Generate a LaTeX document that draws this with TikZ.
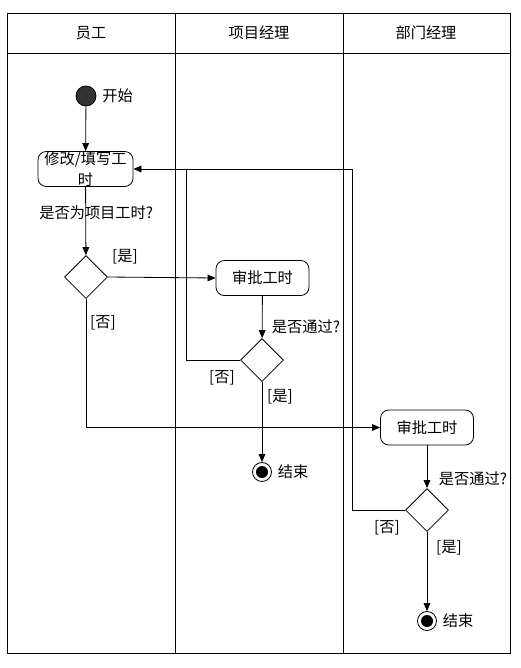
\documentclass[tikz,border=0pt]{standalone}
\usepackage{fontspec}
\setmainfont{Noto Sans CJK SC}
\usetikzlibrary{shapes.geometric, arrows.meta, positioning}

\begin{document}
\begin{tikzpicture}[x=0.03cm, y=-0.03cm, line width=0.7pt, font=\fontsize{13}{15}\selectfont,
    flow/.style={-{Triangle[length=2.4mm, width=2mm]}},
    actbox/.style={draw, rounded corners=2.5mm, minimum width=2.79cm, minimum height=1.05cm, inner sep=0pt, align=center},
    decide/.style={draw, diamond, aspect=1, minimum size=1.29cm, inner sep=0pt},
    endnode/.style={draw, circle, minimum size=0.57cm, inner sep=0pt,
        path picture={\fill (path picture bounding box.center) circle (0.18cm);}}]
        \useasboundingbox (0,0) rectangle (520,668);
        % swimlanes
        \draw (7,13) rectangle (510,653);
        \draw (7,53) -- (510,53);
        \draw (175,13) -- (175,653);
        \draw (343,13) -- (343,653);
        \node (laneA) at (91,33)  {员工};
        \node (laneB) at (259,33) {项目经理};
        \node (laneC) at (426,33) {部门经理};

        % nodes
        \node[draw, circle, fill=black!80, minimum size=0.6cm, inner sep=0pt] (start) at (86,96) {};
        \node[right=0.05cm of start] (startlbl) {开始};
        \node[actbox, minimum width=2.85cm, font=\fontsize{13}{18}\selectfont] (edit) at (85.5,169) {修改/填写工\\时};
        \node[decide] (dec1) at (86,277) {};
        \node[actbox] (pmbox) at (262.5,278) {审批工时};
        \node[decide] (dec2) at (262,360) {};
        \node[endnode] (end1) at (262,472) {};
        \node[right=0.05cm of end1] (end1lbl) {结束};
        \node[actbox] (dmbox) at (427,427.5) {审批工时};
        \node[decide] (dec3) at (427,510) {};
        \node[endnode] (end2) at (427,621) {};
        \node[right=0.05cm of end2] (end2lbl) {结束};
        \coordinate (loopA) at (186,169);
        \coordinate (loopB) at (352,169);

        % connectors
        \draw[flow] (start) -- (edit);
        \draw[flow] (edit) -- (dec1);
        \draw[flow] (dec1.east) -- (pmbox.west);
        \draw[flow] (dec1.south) |- (dmbox.west);
        \draw[flow] (pmbox) -- (dec2);
        \draw[flow] (dec2.west) -| (loopA) -- (edit.east);
        \draw[flow] (dec2.south) -- (end1);
        \draw[flow] (dmbox) -- (dec3);
        \draw (dec3.west) -| (loopB) -- (loopA);
        \draw[flow] (dec3.south) -- (end2);

        % guard labels
        \node[anchor=west] (q1) at (35,213) {是否为项目工时?};
        \node (yes1) at (125,257) {[是]};
        \node (no1)  at (103,323) {[否]};
        \node (q2)   at (306,327) {是否通过?};
        \node (no2)  at (222,378) {[否]};
        \node (yes2) at (280,397) {[是]};
        \node (q3)   at (473,479) {是否通过?};
        \node (no3)  at (387,528) {[否]};
        \node (yes3) at (449,548) {[是]};
    \end{tikzpicture}
\end{document}
